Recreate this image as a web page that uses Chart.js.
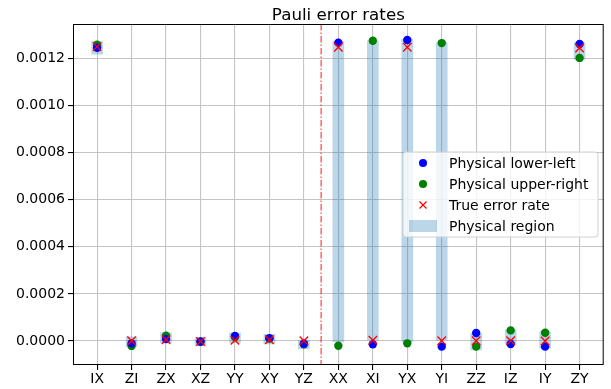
<!DOCTYPE html>
<html>
<head>
<meta charset="utf-8">
<script src="https://cdn.jsdelivr.net/npm/chart.js@4"></script>
<style>
  body { margin: 0; background: #fff; }
  canvas { display: block; }
</style>
</head>
<body>
<canvas id="pauliChart" width="611" height="389"></canvas>
<script>
// data
const paulis = ["IX", "ZI", "ZX", "XZ", "YY", "XY", "YZ", "XX", "XI", "YX", "YI", "ZZ", "IZ", "IY", "ZY"];
const lowerLeft = [0.001245, -0.000010, 0.000008, -0.000002, 0.000021, 0.000012, -0.000012,
  0.001267, -0.000014, 0.001278, -0.000024, 0.000034, -0.000013, -0.000024, 0.001261];
const upperRight = [0.001258, -0.000021, 0.000022, -0.000003, 0.000017, 0.000010, -0.000014,
  -0.000020, 0.001275, -0.000010, 0.001265, -0.000024, 0.000045, 0.000035, 0.001202];
const trueRate = [0.001250, 0.000001, 0.000005, -0.000002, 0.000003, 0.000005, 0.000001,
  0.001247, 0.000003, 0.001247, 0.000001, 0.000001, 0.000001, 0.000000, 0.001244];
const regionLow = [0.001218, -0.000024, -0.000008, -0.000021, -0.000007, -0.000013, -0.000034,
  -0.000003, 0.000003, -0.000003, 0.000002, -0.000038, -0.000013, -0.000031, 0.001196];
const regionHigh = [0.001271, 0.000018, 0.000035, 0.000014, 0.000035, 0.000028, 0.000004,
  0.001271, 0.001275, 0.001281, 0.001267, 0.000033, 0.000047, 0.000040, 0.001266];
const yTicks = [0, 0.0002, 0.0004, 0.0006, 0.0008, 0.0010, 0.0012];
const splitAt = 6.5;

Chart.defaults.font.family = "'DejaVu Sans', sans-serif";
Chart.defaults.font.size = 14;
Chart.defaults.color = "#000";

const toPoints = (arr) => arr.map((v, i) => ({ x: i, y: v }));

// spines, title, separator, legend
const decor = {
  id: "decor",
  afterDatasetsDraw(chart) {
    const { ctx, chartArea: a, scales } = chart;
    ctx.save();
    // dash-dot separator
    const sx = scales.x.getPixelForValue(splitAt);
    ctx.strokeStyle = "rgba(255,0,0,0.75)";
    ctx.lineWidth = 1.2;
    ctx.setLineDash([6.5, 2, 1.5, 2]);
    ctx.beginPath();
    ctx.moveTo(sx, a.top);
    ctx.lineTo(sx, a.bottom);
    ctx.stroke();
    ctx.setLineDash([]);
    ctx.restore();
  },
  afterDraw(chart) {
    const { ctx, chartArea: a } = chart;
    ctx.save();
    ctx.strokeStyle = "#000";
    ctx.lineWidth = 1;
    ctx.strokeRect(a.left + 0.5, a.top + 0.5, a.right - a.left - 1, a.bottom - a.top - 1);

    ctx.fillStyle = "#000";
    ctx.font = "16.7px 'DejaVu Sans'";
    ctx.textAlign = "center";
    ctx.textBaseline = "alphabetic";
    ctx.fillText("Pauli error rates", (a.left + a.right) / 2, 19.5);

    // legend box
    const lx = 403, ly = 152, lw = 195, lh = 85;
    ctx.beginPath();
    ctx.roundRect(lx, ly, lw, lh, 3);
    ctx.fillStyle = "rgba(255,255,255,0.8)";
    ctx.fill();
    ctx.strokeStyle = "#d0d0d0";
    ctx.lineWidth = 1;
    ctx.stroke();

    const rows = [163, 184, 205, 226];
    const ds = chart.data.datasets;
    const order = [1, 2, 3, 0];
    ctx.font = "14px 'DejaVu Sans'";
    ctx.textAlign = "left";
    ctx.textBaseline = "middle";
    order.forEach((di, r) => {
      const d = ds[di];
      const y = rows[r];
      if (d.type === "bar") {
        ctx.fillStyle = d.backgroundColor;
        ctx.fillRect(409, y - 6, 28, 12);
      } else if (d.pointStyle === "crossRot") {
        ctx.strokeStyle = d.borderColor;
        ctx.lineWidth = 1.2;
        ctx.beginPath();
        ctx.moveTo(419.5, y - 3.5); ctx.lineTo(426.5, y + 3.5);
        ctx.moveTo(426.5, y - 3.5); ctx.lineTo(419.5, y + 3.5);
        ctx.stroke();
      } else {
        ctx.fillStyle = d.backgroundColor;
        ctx.beginPath();
        ctx.arc(423, y, 4, 0, Math.PI * 2);
        ctx.fill();
      }
      ctx.fillStyle = "#000";
      ctx.fillText(d.label, 449, y + 1);
    });
    ctx.restore();
  }
};

new Chart(document.getElementById("pauliChart"), {
  type: "scatter",
  data: {
    datasets: [
      {
        type: "bar",
        label: "Physical region",
        data: regionLow.map((lo, i) => ({ x: i, y: [lo, regionHigh[i]] })),
        backgroundColor: "rgba(31,119,180,0.3)",
        borderWidth: 0,
        barThickness: 11,
        order: 3
      },
      {
        label: "Physical lower-left",
        data: toPoints(lowerLeft),
        backgroundColor: "#0000ff",
        borderColor: "#0000ff",
        borderWidth: 0,
        pointRadius: 4.2,
        order: 1
      },
      {
        label: "Physical upper-right",
        data: toPoints(upperRight),
        backgroundColor: "#008000",
        borderColor: "#008000",
        borderWidth: 0,
        pointRadius: 4.2,
        order: 2
      },
      {
        label: "True error rate",
        data: toPoints(trueRate),
        pointStyle: "crossRot",
        borderColor: "#ff0000",
        backgroundColor: "#ff0000",
        borderWidth: 1.3,
        pointRadius: 6,
        order: 0
      }
    ]
  },
  options: {
    responsive: false,
    animation: false,
    layout: { padding: { top: 24, right: 7, left: 0, bottom: 0 } },
    plugins: {
      legend: { display: false },
      title: { display: false },
      tooltip: { enabled: false }
    },
    scales: {
      x: {
        type: "linear",
        min: -0.7,
        max: 14.7,
        offset: false,
        afterBuildTicks: (axis) => { axis.ticks = paulis.map((p, i) => ({ value: i })); },
        afterFit: (axis) => { axis.height = 24; },
        ticks: {
          callback: (v) => paulis[v],
          padding: 1,
          maxRotation: 0,
          autoSkip: false
        },
        grid: { color: "#c4c4c4", tickColor: "#000", tickLength: 5, offset: false, lineWidth: 1.1 },
        border: { display: false }
      },
      y: {
        min: -0.000102,
        max: 0.001346,
        afterBuildTicks: (axis) => { axis.ticks = yTicks.map((v) => ({ value: v })); },
        afterFit: (axis) => { axis.width = 73; },
        ticks: {
          callback: (v) => v.toFixed(4),
          padding: 3
        },
        grid: { color: "#c4c4c4", tickColor: "#000", tickLength: 5, lineWidth: 1.1 },
        border: { display: false }
      }
    }
  },
  plugins: [decor]
});
</script>
</body>
</html>
